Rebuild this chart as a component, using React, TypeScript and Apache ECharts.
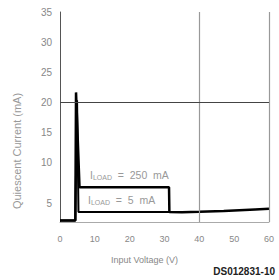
import React, { useEffect, useRef } from "react";
import * as echarts from "echarts";

const vin250 = [0, 4.4, 4.6, 5.6, 31.3, 31.4, 35, 40, 47, 56, 60];
const iq250 = [0.25, 0.25, 21.6, 5.8, 5.8, 1.65, 1.62, 1.7, 1.83, 2.1, 2.2];
const vin5 = [0, 4.4, 4.9, 5.3, 31.4];
const iq5 = [0.25, 0.25, 20.3, 1.65, 1.65];
const xTicks = [0, 10, 20, 30, 40, 50, 60];
const yTicks = [0, 5, 10, 15, 20, 25, 30, 35];

export default function App() {
  const ref = useRef<HTMLDivElement>(null);
  useEffect(() => {
    if (!ref.current) return;
    const chart = echarts.init(ref.current, undefined, { renderer: "svg" });
    const font = "Liberation Sans, Arial, sans-serif";
    chart.setOption({
      animation: false,
      grid: { left: 60, right: 10, top: 12, bottom: 58 },
      xAxis: {
        type: "value",
        min: xTicks[0],
        max: xTicks[xTicks.length - 1],
        interval: 10,
        name: "Input Voltage (V)",
        nameLocation: "middle",
        nameGap: 33,
        nameTextStyle: { color: "#888", fontSize: 9, fontFamily: font, padding: [0, 40, 0, 0] },
        axisLine: { show: true, lineStyle: { color: "#aaa", width: 1 } },
        axisTick: { show: false },
        splitLine: { show: false },
        axisLabel: { color: "#888", fontSize: 9, fontFamily: font, margin: 12 },
      },
      yAxis: {
        type: "value",
        min: yTicks[0],
        max: yTicks[yTicks.length - 1],
        interval: 5,
        name: "Quiescent Current (mA)",
        nameLocation: "middle",
        nameGap: 38,
        nameTextStyle: { color: "#999", fontSize: 11, fontFamily: font, padding: [0, 0, 0, -68] },
        axisLine: { show: true, lineStyle: { color: "#555", width: 1 } },
        axisTick: { show: false },
        splitLine: { show: false },
        axisLabel: {
          color: "#888",
          fontSize: 10,
          fontFamily: font,
          margin: 8,
          formatter: (v: number) => (v === 0 ? "" : v === 5 ? "{low|5}" : String(v)),
          rich: { low: { color: "#888", fontSize: 10, fontFamily: font, padding: [22, 0, 0, 0] } },
        },
      },
      series: [
        {
          type: "line",
          data: vin250.map((x, i) => [x, iq250[i]]),
          symbol: "none",
          lineStyle: { color: "#000", width: 2.5 },
          markLine: {
            silent: true,
            symbol: "none",
            label: { show: false },
            data: [
              { xAxis: 40, lineStyle: { color: "#999", width: 1.2, type: "solid" } },
              { xAxis: 60, lineStyle: { color: "#999", width: 1.2, type: "solid" } },
              { yAxis: 20, lineStyle: { color: "#444", width: 1, type: "solid" } },
            ],
          },
          z: 3,
        },
        {
          type: "line",
          data: vin5.map((x, i) => [x, iq5[i]]),
          symbol: "none",
          lineStyle: { color: "#000", width: 2 },
          z: 3,
        },
      ],
      graphic: [
        {
          type: "text",
          left: 90,
          top: 169,
          style: {
            text: "I{s|LOAD}  =  250  mA",
            fill: "#999",
            fontSize: 10.5,
            fontFamily: font,
            rich: { s: { fontSize: 7, fill: "#999", fontFamily: font, padding: [6, 0, 0, 0] } },
          },
        },
        {
          type: "text",
          left: 88,
          top: 194,
          style: {
            text: "I{s|LOAD}  =  5  mA",
            fill: "#999",
            fontSize: 10.5,
            fontFamily: font,
            rich: { s: { fontSize: 7, fill: "#999", fontFamily: font, padding: [6, 0, 0, 0] } },
          },
        },
        {
          type: "text",
          right: 4,
          top: 266,
          style: { text: "DS012831-10", fill: "#222", fontSize: 10, fontWeight: "bold", fontFamily: font },
        },
      ],
    });
    return () => chart.dispose();
  }, []);
  return <div ref={ref} style={{ width: 279, height: 280, position: "absolute", left: 0, top: 0 }} />;
}
